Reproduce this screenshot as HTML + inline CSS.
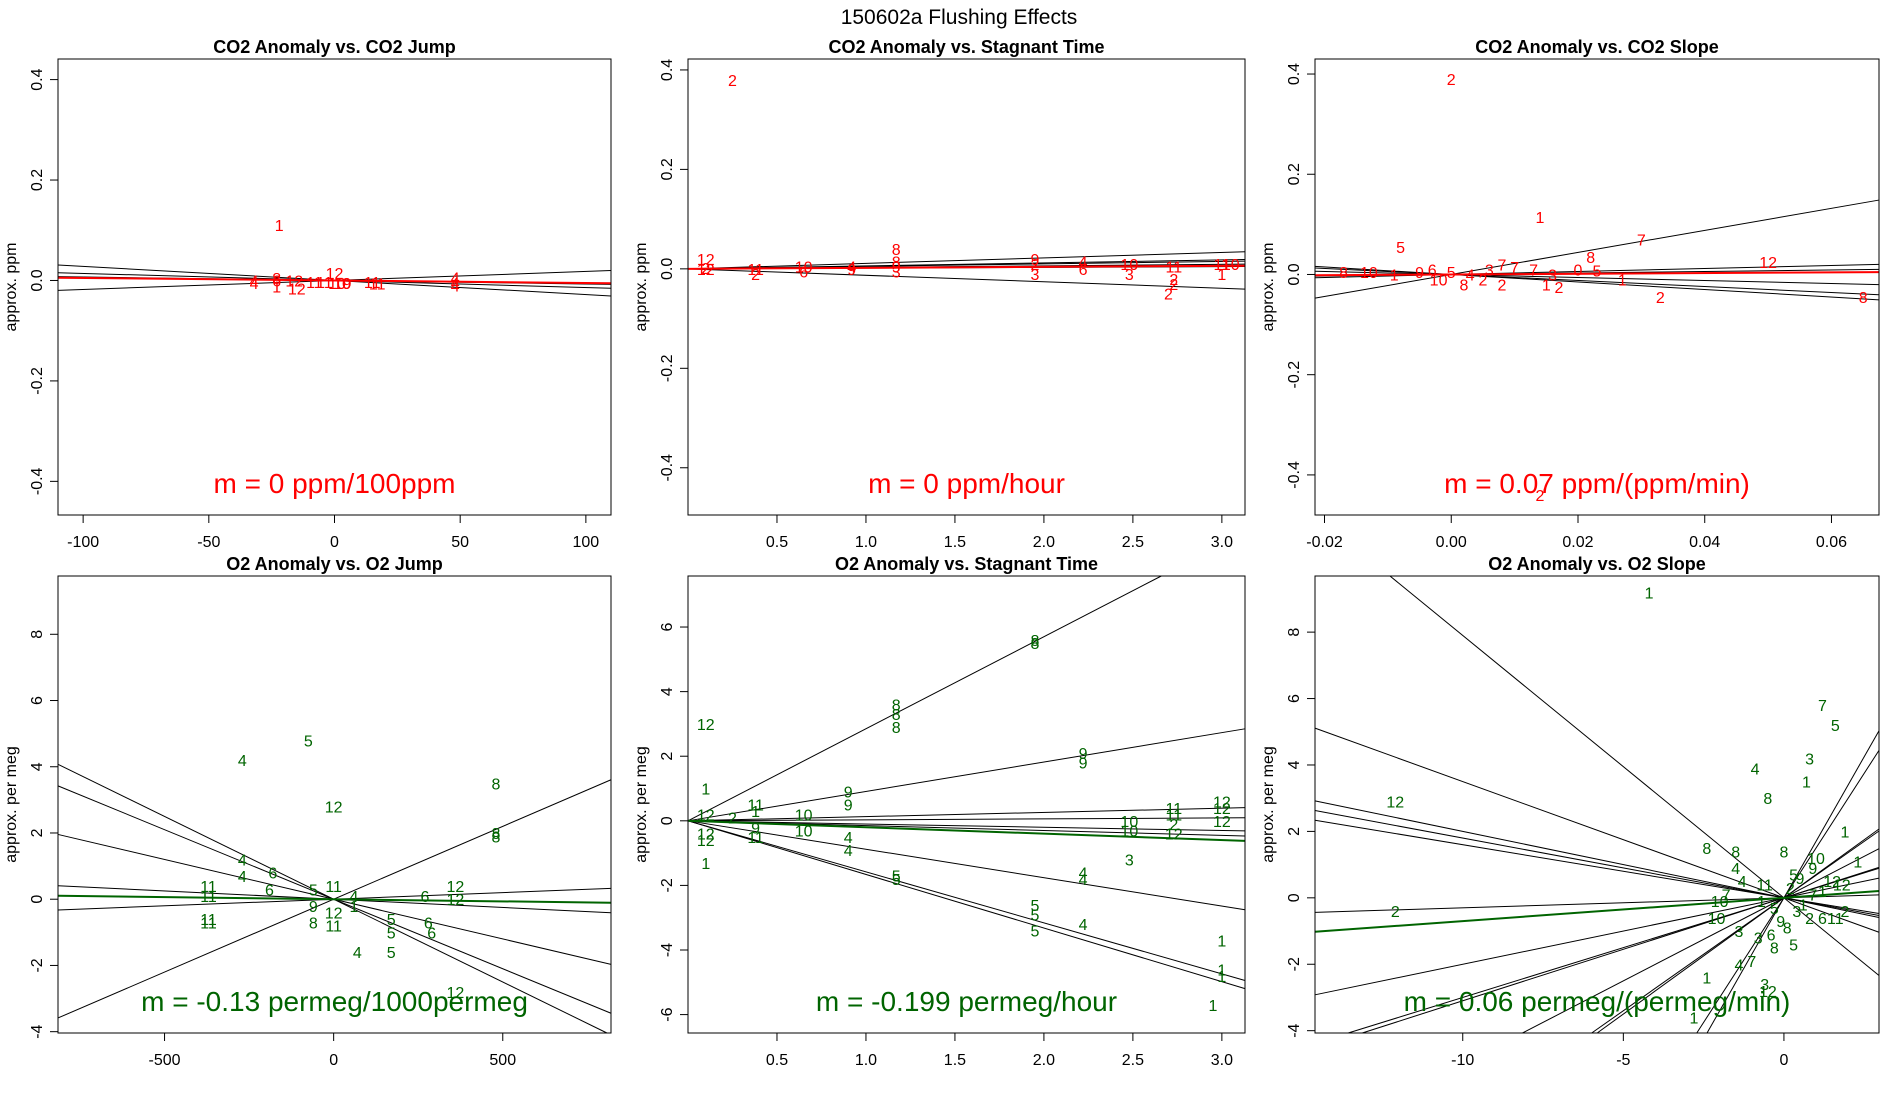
<!DOCTYPE html>
<html><head><meta charset="utf-8"><style>
html,body{margin:0;padding:0;background:#fff;overflow:hidden;width:1900px;height:1100px;}
svg{display:block;font-family:"Liberation Sans",sans-serif;}
</style></head><body>
<svg id="chart" width="1900" height="1100" viewBox="0 0 1900 1100" xmlns="http://www.w3.org/2000/svg">
<text x="959" y="24" text-anchor="middle" font-size="21" fill="#000">150602a   Flushing Effects</text>
</svg>
<script>
// ---- Panel 1: CO2 Anomaly vs CO2 Jump
const p1X=[-22,-32,-32,-23,-23,-23,-16,-15,-8,-4,0,1,3,5,15,17,48,48,48];
const p1Y=[0.11,0,-0.005,0.005,0,-0.012,0,-0.016,-0.003,-0.003,0.015,-0.005,-0.005,-0.005,-0.003,-0.006,0.006,-0.01,-0.004];
const p1L=["1","4","4","8","6","1","12","12","11","11","12","10","10","9","11","11","4","4","4"];
const p1Slopes=[-0.00028,0.00018,-0.00014,-0.00007];
const p1Fit=-0.00005;
// ---- Panel 2: CO2 Anomaly vs Stagnant Time
const p2X=[0.25,0.1,0.1,0.1,0.38,0.38,0.65,0.65,0.92,0.92,1.17,1.17,1.17,1.17,1.95,1.95,1.95,2.22,2.22,2.48,2.48,2.73,2.73,2.7,2.73,3.0,3.0,3.05];
const p2Y=[0.38,0.02,0,0.002,0,-0.01,0.005,-0.005,0,0.005,0.04,0.015,0.005,-0.005,0.02,0.01,-0.01,0.015,0,0.01,-0.01,0.005,-0.03,-0.05,-0.02,0.01,-0.01,0.01];
const p2L=["2","12","12","2","11","2","10","6","9","4","8","8","9","3","9","2","3","4","6","10","3","11","2","2","2","11","1","10"];
const p2Slopes=[0.011,0.006,0.005,0.003,0.0015,-0.013];
const p2Fit=0.002;
// ---- Panel 3: CO2 Anomaly vs CO2 Slope
const p3X=[0,0.014,0.03,-0.008,0.022,0.05,0.065,0.033,0.014,-0.017,-0.013,-0.009,-0.005,-0.003,0,0.003,0.006,0.008,0.01,0.013,0.016,0.02,0.023,0.027,0.008,0.015,0.017,0.005,0.002,-0.002];
const p3Y=[0.39,0.115,0.07,0.055,0.035,0.025,-0.045,-0.045,-0.44,0.005,0.005,0,0.005,0.01,0.005,0,0.01,0.02,0.015,0.01,0,0.01,0.008,-0.01,-0.02,-0.02,-0.025,-0.01,-0.02,-0.01];
const p3L=["2","1","7","5","8","12","8","2","2","8","10","1","9","6","5","4","3","7","7","7","3","0","5","1","2","1","2","2","8","10"];
const p3Slopes=[2.2,0.3,0.15,-0.3,-0.6,-0.75];
const p3Fit=0.07;
// ---- Panel 4: O2 Anomaly vs O2 Jump
const p4X=[-270,-75,0,480,480,480,-270,-270,-180,-190,-370,-370,-370,-370,-60,-60,-60,0,0,0,60,60,70,170,170,170,270,280,290,360,360,360];
const p4Y=[4.2,4.8,2.8,3.5,2,1.9,1.2,0.7,0.8,0.3,0.4,0.1,-0.6,-0.7,0.3,-0.2,-0.7,0.4,-0.4,-0.8,0.1,-0.2,-1.6,-0.6,-1.0,-1.6,0.1,-0.7,-1.0,0.4,0,-2.8];
const p4L=["4","5","12","8","8","8","4","4","6","6","11","11","11","11","5","9","8","11","12","11","4","1","4","5","5","5","6","6","6","12","12","12"];
const p4Slopes=[-0.005,-0.0042,-0.0024,-0.0005,0.0004,0.0044];
const p4Fit=-0.00013;
// ---- Panel 5: O2 Anomaly vs Stagnant Time
const p5X=[0.1,0.1,0.1,0.1,0.1,0.1,0.25,0.38,0.38,0.38,0.38,0.65,0.65,0.9,0.9,0.9,0.9,1.17,1.17,1.17,1.17,1.17,1.95,1.95,2.22,2.22,2.22,2.22,2.22,1.95,1.95,1.95,2.48,2.48,2.48,2.73,2.73,2.73,2.73,3.0,3.0,3.0,3.0,3.0,3.0,2.95];
const p5Y=[3,1,0.2,-0.4,-0.6,-1.3,0.1,0.5,0.3,-0.2,-0.5,0.2,-0.3,0.9,0.5,-0.5,-0.9,3.6,3.3,2.9,-1.7,-1.8,5.6,5.5,2.1,1.8,-1.6,-1.8,-3.2,-2.6,-2.9,-3.4,-1.2,0,-0.3,0.4,0.2,-0.4,-0.1,0.6,0.4,0,-3.7,-4.6,-4.8,-5.7];
const p5L=["12","1","12","12","12","1","2","11","1","9","11","10","10","9","9","4","4","8","8","8","5","5","8","8","9","9","4","4","4","5","5","5","3","10","10","11","11","12","2","12","12","12","1","1","1","1"];
const p5Slopes=[2.85,0.91,0.13,0.03,-0.1,-0.15,-0.88,-1.58,-1.66];
const p5Fit=-0.199;
// ---- Panel 6: O2 Anomaly vs O2 Slope
const p6X=[-4.2,1.2,1.6,0.8,0.7,-0.9,-0.5,1.9,-2.4,-1.5,0,1.0,0.9,2.3,-12.1,-12.1,-1.5,-1.3,-0.6,-1.8,-2.0,-2.1,-1.4,-0.8,-0.4,-0.3,-1.4,-1.0,-2.4,-0.6,-0.5,-2.8,1.5,1.8,1.6,1.9,1.2,0.8,0.3,0.5,0.2,-0.3,-0.1,0.4,0.6,0.9,1.2,-0.7,0.1,0.3];
const p6Y=[9.2,5.8,5.2,4.2,3.5,3.9,3.0,2.0,1.5,1.4,1.4,1.2,0.9,1.1,2.9,-0.4,0.9,0.5,0.4,0.1,-0.1,-0.6,-1.0,-1.2,-1.1,-1.5,-2.0,-1.9,-2.4,-2.6,-2.8,-3.6,0.5,0.4,-0.6,-0.4,-0.6,-0.6,0.7,0.6,0.3,-0.3,-0.7,-0.4,-0.2,0.1,0.2,-0.1,-0.9,-1.4];
const p6L=["1","7","5","3","1","4","8","1","8","8","8","10","9","1","12","2","4","4","11","7","10","10","3","3","6","8","4","7","1","3","12","1","12","12","11","2","6","2","5","9","2","5","9","3","1","7","1","1","8","5"];
const p6Slopes=[-0.79,-0.35,-0.2,-0.18,-0.16,0.03,0.2,0.31,0.5,0.7,1.5,1.7,0.68,0.3];
const p6Fit=0.07;

const NS="http://www.w3.org/2000/svg";
const svg=document.getElementById('chart');
function mk(tag,attrs,parent){const e=document.createElementNS(NS,tag);for(const k in attrs)e.setAttribute(k,attrs[k]);(parent||svg).appendChild(e);return e;}

const R1T=59,R1H=456,R2T=576,R2H=457;
const C1L=58,C1W=553,C2L=688,C2W=557,C3L=1315,C3W=564;
const panels=[
 {id:'co2-jump',L:C1L,T:R1T,W:C1W,H:R1H,x0:-110,x1:110,y0:-0.467,y1:0.441,xt:[-100,-50,0,50,100],xtl:["-100","-50","0","50","100"],yt:[-0.4,-0.2,0,0.2,0.4],ytl:["-0.4","-0.2","0.0","0.2","0.4"],col:'#ff0000',title:'CO2 Anomaly vs. CO2 Jump',ylab:'approx. ppm',ann:'m = 0 ppm/100ppm',X:p1X,Y:p1Y,Lb:p1L,S:p1Slopes,F:p1Fit},
 {id:'co2-stagnant',L:C2L,T:R1T,W:C2W,H:R1H,x0:0,x1:3.13,y0:-0.495,y1:0.422,xt:[0.5,1,1.5,2,2.5,3],xtl:["0.5","1.0","1.5","2.0","2.5","3.0"],yt:[-0.4,-0.2,0,0.2,0.4],ytl:["-0.4","-0.2","0.0","0.2","0.4"],col:'#ff0000',title:'CO2 Anomaly vs. Stagnant Time',ylab:'approx. ppm',ann:'m = 0 ppm/hour',X:p2X,Y:p2Y,Lb:p2L,S:p2Slopes,F:p2Fit},
 {id:'co2-slope',L:C3L,T:R1T,W:C3W,H:R1H,x0:-0.0215,x1:0.0675,y0:-0.48,y1:0.43,xt:[-0.02,0,0.02,0.04,0.06],xtl:["-0.02","0.00","0.02","0.04","0.06"],yt:[-0.4,-0.2,0,0.2,0.4],ytl:["-0.4","-0.2","0.0","0.2","0.4"],col:'#ff0000',title:'CO2 Anomaly vs. CO2 Slope',ylab:'approx. ppm',ann:'m = 0.07 ppm/(ppm/min)',X:p3X,Y:p3Y,Lb:p3L,S:p3Slopes,F:p3Fit},
 {id:'o2-jump',L:C1L,T:R2T,W:C1W,H:R2H,x0:-815,x1:820,y0:-4.04,y1:9.76,xt:[-500,0,500],xtl:["-500","0","500"],yt:[-4,-2,0,2,4,6,8],ytl:["-4","-2","0","2","4","6","8"],col:'#006400',title:'O2 Anomaly vs. O2 Jump',ylab:'approx. per meg',ann:'m = -0.13 permeg/1000permeg',X:p4X,Y:p4Y,Lb:p4L,S:p4Slopes,F:p4Fit},
 {id:'o2-stagnant',L:C2L,T:R2T,W:C2W,H:R2H,x0:0,x1:3.13,y0:-6.57,y1:7.58,xt:[0.5,1,1.5,2,2.5,3],xtl:["0.5","1.0","1.5","2.0","2.5","3.0"],yt:[-6,-4,-2,0,2,4,6],ytl:["-6","-4","-2","0","2","4","6"],col:'#006400',title:'O2 Anomaly vs. Stagnant Time',ylab:'approx. per meg',ann:'m = -0.199 permeg/hour',X:p5X,Y:p5Y,Lb:p5L,S:p5Slopes,F:p5Fit},
 {id:'o2-slope',L:C3L,T:R2T,W:C3W,H:R2H,x0:-14.6,x1:2.96,y0:-4.07,y1:9.69,xt:[-10,-5,0],xtl:["-10","-5","0"],yt:[-4,-2,0,2,4,6,8],ytl:["-4","-2","0","2","4","6","8"],col:'#006400',title:'O2 Anomaly vs. O2 Slope',ylab:'approx. per meg',ann:'m = 0.06 permeg/(permeg/min)',X:p6X,Y:p6Y,Lb:p6L,S:p6Slopes,F:p6Fit}
];
// clip line y = s*x to the panel's data window
function seg(p,s){
  let xa=p.x0,xb=p.x1;
  if(s!==0){
    const u=p.y0/s,v=p.y1/s;
    const lo=Math.min(u,v),hi=Math.max(u,v);
    xa=Math.max(xa,lo);xb=Math.min(xb,hi);
  }
  return [xa,xb];
}
panels.forEach((p,i)=>{
  const sx=v=>p.L+(v-p.x0)/(p.x1-p.x0)*p.W;
  const sy=v=>p.T+p.H-(v-p.y0)/(p.y1-p.y0)*p.H;
  const g=mk('g',{});
  
  
  const t=mk('text',{x:p.L+p.W/2,y:p.T-6,'text-anchor':'middle','font-size':18,'font-weight':'bold',fill:'#000'},g);
  t.textContent=p.title;
  
  
  const yl=mk('text',{transform:`translate(${p.L-42},${p.T+p.H/2}) rotate(-90)`,'text-anchor':'middle','font-size':16,fill:'#000'},g);
  yl.textContent=p.ylab;
  
  
  p.xt.forEach((v,k)=>{
    mk('line',{x1:sx(v),x2:sx(v),y1:p.T+p.H,y2:p.T+p.H+8,stroke:'#000','stroke-width':1},g);
    const tx=mk('text',{x:sx(v),y:p.T+p.H+32,'text-anchor':'middle','font-size':16,fill:'#000'},g);
    tx.textContent=p.xtl[k];
    
    
  });
  p.yt.forEach((v,k)=>{
    mk('line',{x1:p.L-8,x2:p.L,y1:sy(v),y2:sy(v),stroke:'#000','stroke-width':1},g);
    const ty=mk('text',{transform:`translate(${p.L-16},${sy(v)}) rotate(-90)`,'text-anchor':'middle','font-size':16,fill:'#000'},g);
    ty.textContent=p.ytl[k];
    
    
  });
  p.S.forEach(s=>{
    const [xa,xb]=seg(p,s);
    const ln=mk('line',{x1:sx(xa),y1:sy(s*xa),x2:sx(xb),y2:sy(s*xb),stroke:'#000','stroke-width':1},g);
    
    
  });
  const [fa,fb]=seg(p,p.F);
  const fl=mk('line',{x1:sx(fa),y1:sy(p.F*fa),x2:sx(fb),y2:sy(p.F*fb),stroke:p.col,'stroke-width':2},g);
  
  
  p.X.forEach((x,k)=>{
    const pt=mk('text',{x:sx(x),y:sy(p.Y[k])+6,'text-anchor':'middle','font-size':16,fill:p.col},g);
    pt.textContent=p.Lb[k];
    
    
  });
  mk('rect',{x:p.L,y:p.T,width:p.W,height:p.H,fill:'none',stroke:'#000','stroke-width':1},g);
  const an=mk('text',{x:p.L+p.W/2,y:p.T+p.H-22,'text-anchor':'middle','font-size':28,fill:p.col},g);
  an.textContent=p.ann;
  
  
});
</script>
</body></html>
